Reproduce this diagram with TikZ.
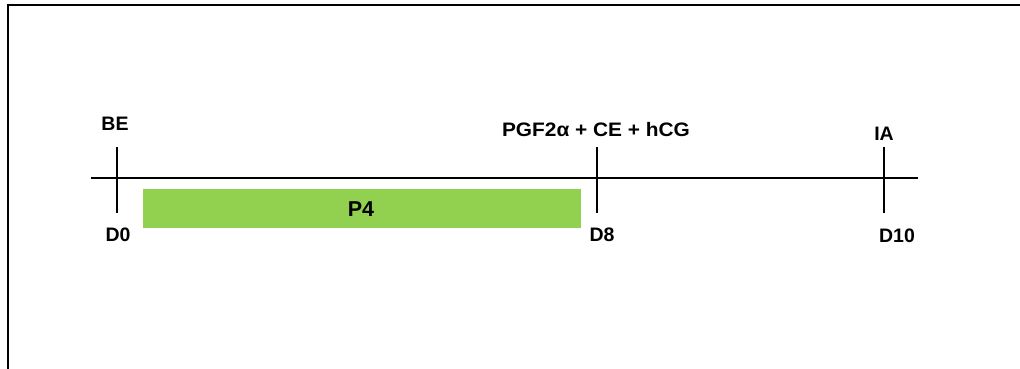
\documentclass[tikz,border=0pt]{standalone}
\usepackage{fontspec}
\setmainfont{Liberation Sans}
\definecolor{barg}{HTML}{92D050}
\begin{document}
\begin{tikzpicture}[x=1pt,y=-1pt,
  lbl/.style={font=\fontsize{19.5}{22}\selectfont\bfseries, inner sep=0pt, anchor=center},
  tick/.style={line width=1.6pt},
  axis/.style={line width=1.6pt}]
\useasboundingbox (0,0) rectangle (1020,369);
\draw[line width=1.3pt] (8,369) -- (8,5) -- (1020,5);
\coordinate (L) at (91,178);
\coordinate (R) at (918,178);
\draw[axis] (L) -- (R);
\coordinate (t0a) at (117,147); \coordinate (t0b) at (117,213);
\coordinate (t8a) at (597,147); \coordinate (t8b) at (597,213);
\coordinate (t10a) at (884,147); \coordinate (t10b) at (884,213);
\draw[tick] (t0a) -- (t0b);
\draw[tick] (t8a) -- (t8b);
\draw[tick] (t10a) -- (t10b);
\node[fill=barg, minimum width=438pt, minimum height=39pt, inner sep=0pt, anchor=north west] (bar) at (143,189) {};
\node[lbl, font=\fontsize{21.5}{24}\selectfont\bfseries] (p4) at (361,209) {P4};
\node[lbl] (be) at (115,124) {BE};
\node[lbl] (pgf) at (596,130) {\scalebox{1.07}[1]{PGF2α + CE + hCG}};
\node[lbl] (ia) at (884,134) {IA};
\node[lbl] (d0) at (118,235) {D0};
\node[lbl] (d8) at (602,235) {D8};
\node[lbl] (d10) at (897,236) {D10};
\end{tikzpicture}
\end{document}
